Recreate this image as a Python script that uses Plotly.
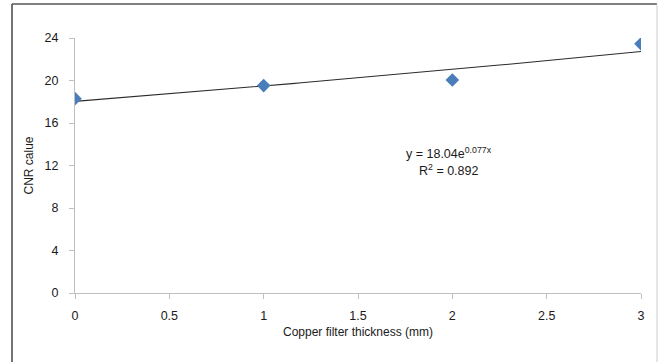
import numpy as np
import plotly.graph_objects as go

# Data
thickness = [0, 1, 2, 3]
cnr = [18.29, 19.52, 20.05, 23.45]
fit_a = 18.04
fit_b = 0.077
eq_label = "y = 18.04e<sup>0.077x</sup>"
r2_label = "R<sup>2</sup> = 0.892"
x_ticks = [0, 0.5, 1, 1.5, 2, 2.5, 3]
x_tick_text = ["0", "0.5", "1", "1.5", "2", "2.5", "3"]
y_ticks = [0, 4, 8, 12, 16, 20, 24]

xs = np.linspace(0, 3, 61)
ys = fit_a * np.exp(fit_b * xs)

fig = go.Figure()
fig.add_trace(go.Scatter(x=xs, y=ys, mode="lines",
                         line=dict(color="#2b2b2b", width=1.1),
                         hoverinfo="skip", showlegend=False))
fig.add_trace(go.Scatter(x=thickness, y=cnr, mode="markers",
                         marker=dict(symbol="diamond", size=10.5, color="#4a7ebb",
                                     line=dict(width=0)),
                         showlegend=False))

FAM = "Liberation Sans, Arial, sans-serif"
tfont = dict(family=FAM, size=12.5, color="#1a1a1a")
afont = dict(family=FAM, size=12, color="#1a1a1a")
L, R, T, B = 75, 18, 38, 69
W, H = 659, 362
pw, ph = W - L - R, H - T - B

fig.update_layout(
    width=W, height=H,
    margin=dict(l=L, r=R, t=T, b=B, pad=0),
    paper_bgcolor="white", plot_bgcolor="white",
    font=tfont,
    xaxis=dict(range=[0, 3], tickvals=x_ticks, ticktext=x_tick_text,
               showgrid=False, zeroline=False, showline=True,
               linecolor="#bfbfbf", linewidth=1.2,
               ticks="outside", ticklen=5, tickcolor="#bfbfbf",
               ticklabelstandoff=6,
               title=dict(text="Copper filter thickness (mm)", font=afont, standoff=5),
               tickfont=tfont),
    yaxis=dict(range=[0, 24], tickvals=y_ticks,
               showgrid=False, zeroline=False, showline=True,
               linecolor="#bfbfbf", linewidth=1.2,
               ticks="outside", ticklen=5, tickcolor="#bfbfbf",
               ticklabelstandoff=8,
               title=dict(text="CNR calue", font=afont, standoff=8),
               tickfont=tfont),
)

def px_x(p):
    return (p - L) / pw

def px_y(p):
    return (H - B - p) / ph

# chart border (left/top dark, right light)
fig.add_shape(type="line", xref="paper", yref="paper",
              x0=px_x(12), x1=px_x(12), y0=px_y(4), y1=px_y(370),
              line=dict(color="#444444", width=1.5))
fig.add_shape(type="line", xref="paper", yref="paper",
              x0=px_x(12), x1=px_x(657), y0=px_y(4), y1=px_y(4),
              line=dict(color="#555555", width=1.5))
fig.add_shape(type="line", xref="paper", yref="paper",
              x0=px_x(657), x1=px_x(657), y0=px_y(4), y1=px_y(370),
              line=dict(color="#cccccc", width=1))

fig.add_annotation(xref="paper", yref="paper", x=px_x(449), y=px_y(153),
                   text=eq_label, showarrow=False, xanchor="center", yanchor="middle",
                   font=dict(family=FAM, size=12.5, color="#1a1a1a"))
fig.add_annotation(xref="paper", yref="paper", x=px_x(448), y=px_y(170),
                   text=r2_label, showarrow=False, xanchor="center", yanchor="middle",
                   font=dict(family=FAM, size=12.5, color="#1a1a1a"))

fig.write_html("out.html")
